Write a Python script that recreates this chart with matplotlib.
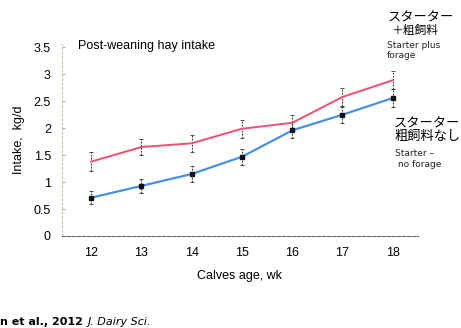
import matplotlib.pyplot as plt

plt.rcParams['font.family'] = ['Liberation Sans', 'Noto Sans CJK JP', 'DejaVu Sans']

# weekly post-weaning hay intake, kg/d
weeks = [12, 13, 14, 15, 16, 17, 18]
forage = [1.38, 1.65, 1.72, 1.99, 2.10, 2.58, 2.89]
no_forage = [0.71, 0.93, 1.15, 1.47, 1.96, 2.25, 2.56]
forage_err = [0.17, 0.15, 0.16, 0.17, 0.15, 0.17, 0.17]
no_forage_err = [0.12, 0.13, 0.15, 0.15, 0.15, 0.15, 0.17]
yticks = [0, 0.5, 1, 1.5, 2, 2.5, 3, 3.5]

fig = plt.figure(figsize=(4.61, 3.28), dpi=100)
ax = fig.add_axes([0.1345, 0.2805, 0.772, 0.585])

ax.errorbar(weeks, forage, yerr=forage_err, color='#f0506a', lw=1.4,
            ecolor='#333333', elinewidth=0.8, capsize=1.5, capthick=0.6)
ax.errorbar(weeks, no_forage, yerr=no_forage_err, color='#4a90e2', lw=1.6,
            marker='s', ms=3, mfc='#111111', mec='#111111',
            ecolor='#333333', elinewidth=0.8, capsize=1.5, capthick=0.6)
for c in ax.containers:
    for bar in c[2]:
        bar.set_linestyle((0, (1.5, 1.2)))

ax.set_xlim(11.42, 18.5)
ax.set_ylim(0, 3.56)
ax.set_xticks(weeks)
ax.set_yticks(yticks)
ax.set_yticklabels(['0', '0.5', '1', '1.5', '2', '2.5', '3', '3.5'])
ax.tick_params(axis='y', direction='in', length=2, width=0.6, color='#999999',
               labelsize=9, pad=8)
ax.tick_params(axis='x', length=0, labelsize=9, pad=8)

for s in ['top', 'right']:
    ax.spines[s].set_visible(False)
ax.spines['left'].set_color('#c8c8b0')
ax.spines['left'].set_linestyle((0, (2, 2)))
ax.spines['left'].set_linewidth(0.8)
ax.spines['bottom'].set_color('#666666')
ax.spines['bottom'].set_linestyle((0, (3, 1.5)))
ax.spines['bottom'].set_linewidth(0.8)

ax.set_ylabel('Intake,  kg/d', fontsize=9, labelpad=6)
ax.set_xlabel('Calves age, wk', fontsize=9, labelpad=8)

fig.text(0.169, 0.86, 'Post-weaning hay intake', fontsize=9, va='center')

# series labels on the right
fig.text(0.84, 0.962, 'スターター', fontsize=9.5, va='top')
fig.text(0.85, 0.925, '＋粗飼料', fontsize=8.5, va='top')
fig.text(0.84, 0.875, 'Starter plus\nforage', fontsize=6.5, va='top',
         linespacing=1.15, family='DejaVu Sans', color='#222222')
fig.text(0.855, 0.64, 'スターター\n粗飼料なし', fontsize=9.5, va='top',
         linespacing=1.1)
fig.text(0.857, 0.545, 'Starter –\n no forage', fontsize=6.5, va='top',
         linespacing=1.25, family='DejaVu Sans', color='#222222')

fig.text(0.0, 0.004, 'n et al., 2012 ', fontsize=8, fontweight='bold',
         va='bottom', family='DejaVu Sans')
fig.text(0.19, 0.004, 'J. Dairy Sci.', fontsize=8, fontstyle='italic',
         va='bottom', family='DejaVu Sans')

fig.savefig('out.png', dpi=100)
